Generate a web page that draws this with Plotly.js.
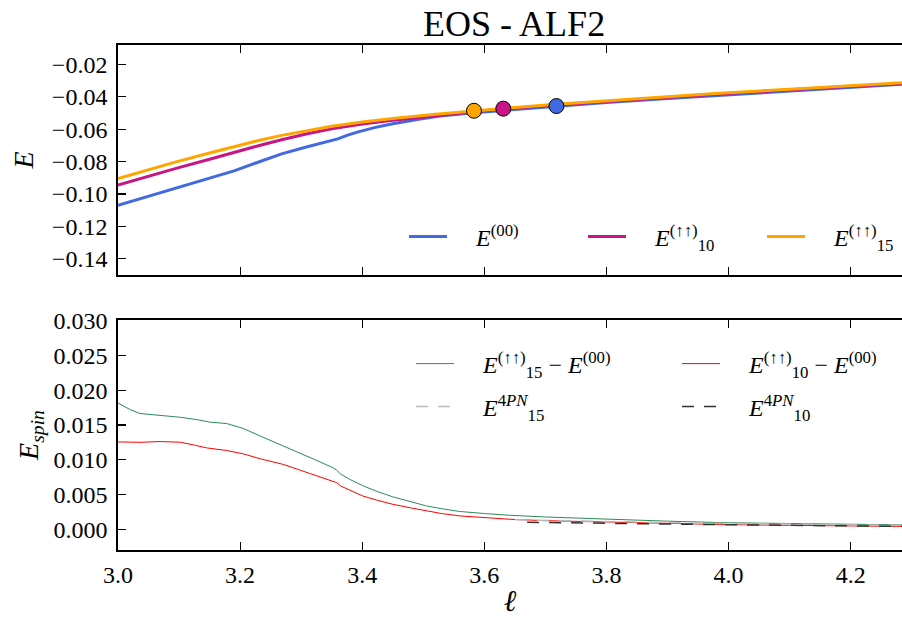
<!DOCTYPE html>
<html><head><meta charset="utf-8">
<script src="https://cdn.plot.ly/plotly-3.0.1.min.js"></script>
<style>html,body{margin:0;padding:0;background:#fff}</style>
</head><body><div id="chart" style="width:902px;height:617px"></div>
<script>
// ---------- data ----------
const chartTitle = "EOS - ALF2";
const seriesNames = [
  "<i>E</i><sup>(00)</sup>",
  "<i>E</i><sup>(↑↑)</sup><sub>10</sub>",
  "<i>E</i><sup>(↑↑)</sup><sub>15</sub>",
  "<i>E</i><sup>(↑↑)</sup><sub>15</sub> − <i>E</i><sup>(00)</sup>",
  "<i>E</i><sup>(↑↑)</sup><sub>10</sub> − <i>E</i><sup>(00)</sup>",
  "<i>E</i><sup>4<i>PN</i></sup><sub>15</sub>",
  "<i>E</i><sup>4<i>PN</i></sup><sub>10</sub>"
];

const e00X = [3.00,3.05,3.095,3.15,3.19,3.227,3.268,3.31,3.35,3.36,3.375,3.392,3.42,3.45,3.49,3.524,3.582,3.65,3.718,3.80,3.90,3.978,4.10,4.20,4.284];
const e00Y = [-0.1070,-0.1015,-0.0966,-0.0904,-0.0857,-0.0807,-0.0752,-0.0708,-0.0668,-0.0660,-0.0638,-0.0618,-0.0590,-0.0566,-0.0540,-0.0520,-0.0498,-0.0477,-0.0457,-0.0435,-0.0411,-0.0392,-0.0363,-0.0340,-0.0322];

const e10X = [3.00,3.05,3.095,3.15,3.19,3.23,3.268,3.31,3.35,3.40,3.45,3.52,3.582,3.631,3.718,3.80,3.90,3.978,4.10,4.20,4.284];
const e10Y = [-0.0945,-0.0890,-0.0842,-0.0785,-0.0742,-0.0702,-0.0665,-0.0628,-0.0598,-0.0568,-0.0545,-0.0516,-0.0493,-0.0474,-0.0450,-0.0428,-0.0402,-0.0384,-0.0356,-0.0335,-0.0317];

const e15X = [3.00,3.05,3.095,3.15,3.19,3.23,3.268,3.31,3.35,3.40,3.45,3.52,3.583,3.65,3.718,3.80,3.90,3.978,4.10,4.20,4.284];
const e15Y = [-0.0904,-0.0850,-0.0802,-0.0747,-0.0707,-0.0670,-0.0638,-0.0607,-0.0582,-0.0556,-0.0534,-0.0508,-0.0486,-0.0466,-0.0446,-0.0424,-0.0399,-0.0380,-0.0353,-0.0331,-0.0313];

// highlighted points (E15, E10, E00)
const markX = [3.583, 3.631, 3.718];
const markY = [-0.0486, -0.0473, -0.0457];

const d15X = [3.00,3.02,3.036,3.07,3.102,3.13,3.151,3.178,3.205,3.233,3.26,3.287,3.32,3.352,3.358,3.365,3.38,3.401,3.425,3.45,3.48,3.505,3.53,3.559,3.60,3.641,3.70,3.80,3.90,4.00,4.10,4.20,4.284];
const d15Y = [0.01815,0.01720,0.01665,0.01640,0.01610,0.01575,0.01540,0.01520,0.01450,0.01340,0.01240,0.01135,0.01010,0.00885,0.00850,0.00790,0.00715,0.00625,0.00540,0.00465,0.00395,0.00335,0.00295,0.00255,0.00225,0.00200,0.00175,0.00143,0.00115,0.00092,0.00080,0.00068,0.00062];

const d10X = [3.00,3.036,3.069,3.102,3.125,3.145,3.178,3.205,3.233,3.271,3.314,3.352,3.358,3.365,3.38,3.401,3.425,3.45,3.48,3.505,3.53,3.559,3.60,3.641,3.70,3.80,3.90,4.00,4.10,4.20,4.284];
const d10Y = [0.01256,0.01250,0.01261,0.01251,0.01210,0.01170,0.01132,0.01084,0.01013,0.00931,0.00802,0.00692,0.00670,0.00620,0.00560,0.00477,0.00415,0.00358,0.00305,0.00262,0.00225,0.00191,0.00165,0.00143,0.00122,0.00100,0.00082,0.00065,0.00055,0.00045,0.00040];

const pn15X = [3.65,3.70,3.80,3.90,4.00,4.10,4.20,4.284];
const pn15Y = [0.00135,0.00125,0.00108,0.00094,0.00082,0.00071,0.00062,0.00056];

const pn10X = [3.67,3.70,3.80,3.90,4.00,4.10,4.20,4.284];
const pn10Y = [0.00098,0.00094,0.00083,0.00073,0.00064,0.00055,0.00047,0.00040];

const xTitle = "<i>ℓ</i>";
const yTopTitle = "<i>E</i>";
const yBotTitle = "<i>E</i><sub><i>spin</i></sub>";

// ---------- styles ----------
const FONT = "Liberation Serif, Times New Roman, serif";
const C = {blue:"#4169E1", mag:"#C71585", orange:"#FFA500", green:"#2E8B57", red:"#FF0000", light:"#BBBBBB", dark:"#333333"};
const PAD = "\u00A0\u00A0\u00A0\u00A0";  // gap between legend sample and its text

const traces = [
  {x:e00X, y:e00Y, xaxis:"x2", yaxis:"y2", mode:"lines", name:PAD+seriesNames[0], legend:"legend", line:{color:C.blue, width:3}},
  {x:e10X, y:e10Y, xaxis:"x2", yaxis:"y2", mode:"lines", name:PAD+seriesNames[1], legend:"legend2", line:{color:C.mag, width:3}},
  {x:e15X, y:e15Y, xaxis:"x2", yaxis:"y2", mode:"lines", name:PAD+seriesNames[2], legend:"legend3", line:{color:C.orange, width:3}},
  {x:markX, y:markY, xaxis:"x2", yaxis:"y2", mode:"markers", showlegend:false,
   marker:{size:15, color:[C.orange, C.mag, C.blue], line:{color:"black", width:1}}},
  {x:d15X, y:d15Y, mode:"lines", name:PAD+seriesNames[3], legend:"legend4", line:{color:C.green, width:1}},
  {x:d10X, y:d10Y, mode:"lines", name:PAD+seriesNames[4], legend:"legend5", line:{color:C.red, width:1}},
  {x:pn15X, y:pn15Y, mode:"lines", name:PAD+seriesNames[5], legend:"legend6", line:{color:C.light, width:1.5, dash:"12px,10px"}},
  {x:pn10X, y:pn10Y, mode:"lines", name:PAD+seriesNames[6], legend:"legend7", line:{color:C.dark, width:1.5, dash:"12px,10px"}}
];

const axisBase = {
  showline:true, linecolor:"black", linewidth:1.8,
  ticks:"inside", ticklen:8, tickwidth:1.2, tickcolor:"black",
  showgrid:false, zeroline:false,
  tickfont:{family:FONT, size:24, color:"black"}
};

function leg(px, py) {
  return {x:(px-5-118)/784, y:(550-py)/505, xref:"paper", yref:"paper",
    xanchor:"left", yanchor:"middle", bgcolor:"rgba(0,0,0,0)", borderwidth:0,
    itemwidth:38, font:{family:FONT, size:24, color:"black"}};
}

const layout = {
  width:902, height:617,
  margin:{l:118, r:0, t:45, b:67},
  paper_bgcolor:"white", plot_bgcolor:"white",
  title:{text:chartTitle, font:{family:FONT, size:36, color:"black"},
         x:0.570, xanchor:"center", xref:"container", y:0.962, yanchor:"middle", yref:"container"},
  xaxis:Object.assign({}, axisBase, {anchor:"y", domain:[0,1], range:[3.0, 4.284], tick0:3.0, dtick:0.2,
         tickformat:".1f", mirror:"ticks", ticklabelstandoff:2,
         title:{text:xTitle, font:{family:FONT, size:30, color:"black"}, standoff:8}}),
  xaxis2:Object.assign({}, axisBase, {anchor:"y2", matches:"x", range:[3.0, 4.284], tick0:3.0, dtick:0.2,
         showticklabels:false, mirror:"ticks"}),
  yaxis:Object.assign({}, axisBase, {anchor:"x", domain:[0, 0.4554], range:[-0.003, 0.0301], tick0:0, dtick:0.005,
         tickformat:".3f", ticklabelstandoff:4,
         title:{text:yBotTitle, font:{family:FONT, size:28, color:"black"}, standoff:6}}),
  yaxis2:Object.assign({}, axisBase, {anchor:"x2", domain:[0.5446, 1], range:[-0.15, -0.008], tick0:0, dtick:0.02,
         tickformat:".2f", ticklabelstandoff:4,
         title:{text:yTopTitle, font:{family:FONT, size:28, color:"black"}, standoff:10}}),
  legend:leg(409, 237),
  legend2:leg(588, 237),
  legend3:leg(767, 237),
  legend4:leg(416, 364),
  legend5:leg(682, 364),
  legend6:leg(416, 407),
  legend7:leg(682, 407),
  showlegend:true
};

Plotly.newPlot("chart", traces, layout, {displayModeBar:false, staticPlot:true});
</script></body></html>
